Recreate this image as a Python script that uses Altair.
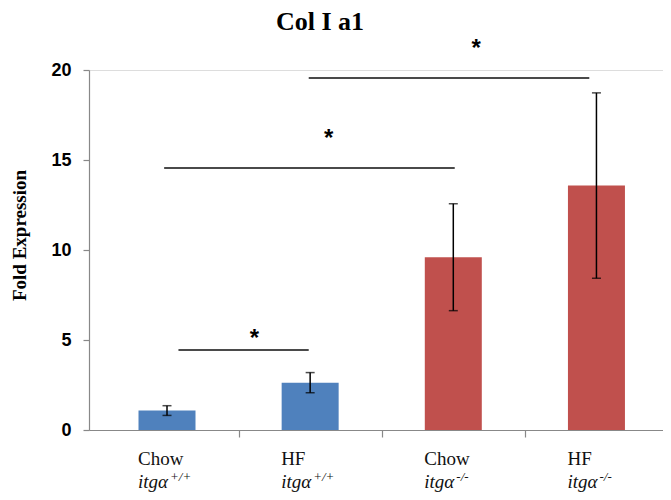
import altair as alt
import pandas as pd

# ---- data ----
title_text = "Col I a1"
groups = ["Chow", "HF", "Chow", "HF"]
genotypes = ["+/+", "+/+", "-/-", "-/-"]
means = [1.08, 2.63, 9.6, 13.58]
errors = [0.27, 0.56, 2.97, 5.15]

sig_start = [0.08, -0.02, 0.99]
sig_end = [0.99, 2.01, 2.95]
sig_y = [4.45, 14.55, 19.55]
star_x = [0.61, 1.13, 2.16]
star_y = [5.4, 16.5, 21.5]

y_ticks = [0, 5, 10, 15, 20]
x_ticks = [0.5, 1.5, 2.5]

bars = pd.DataFrame({
    "idx": list(range(len(groups))),
    "group": groups,
    "geno": genotypes,
    "mean": means,
    "lo": [m - e for m, e in zip(means, errors)],
    "hi": [m + e for m, e in zip(means, errors)],
})
sig = pd.DataFrame({"x": sig_start, "x2": sig_end, "y": sig_y})
stars = pd.DataFrame({"x": star_x, "y": star_y, "t": ["*"] * len(star_x)})
ttl = pd.DataFrame({"t": [title_text]})

W, H = 574, 360
xs = alt.Scale(domain=[-0.51, 3.43], nice=False, zero=False)
ys = alt.Scale(domain=[0, 20], nice=False)

x_axis = alt.Axis(values=x_ticks, labels=False, grid=False, title=None,
                  tickColor="#888888", domainColor="#888888", tickSize=7,
                  domainWidth=1.2, tickWidth=1.2)
y_axis = alt.Axis(values=y_ticks, grid=False, title="Fold Expression",
                  labelFont="Liberation Sans", labelFontWeight="bold",
                  labelFontSize=18, labelColor="#000000", labelPadding=12,
                  tickColor="#888888", domainColor="#888888", tickSize=6,
                  domainWidth=1.2, tickWidth=1.2,
                  titleFont="Liberation Serif", titleFontWeight="bold",
                  titleFontSize=19, titleColor="#000000",
                  titleX=-70, titleY=165, titleBaseline="middle", titleAngle=270)

base = alt.Chart(bars)

bar = base.mark_bar(size=57).encode(
    x=alt.X("idx:Q", scale=xs, axis=x_axis),
    y=alt.Y("mean:Q", scale=ys, axis=y_axis),
    color=alt.Color("geno:N", scale=alt.Scale(domain=["+/+", "-/-"],
                                              range=["#4F81BD", "#C0504D"]),
                    legend=None),
)

err = base.mark_rule(color="#000000", strokeWidth=1.5).encode(
    x=alt.X("idx:Q", scale=xs), y=alt.Y("lo:Q", scale=ys), y2="hi:Q")
cap_hi = base.mark_tick(color="#000000", orient="horizontal", size=9,
                        thickness=1.5).encode(
    x=alt.X("idx:Q", scale=xs), y=alt.Y("hi:Q", scale=ys))
cap_lo = base.mark_tick(color="#000000", orient="horizontal", size=9,
                        thickness=1.5).encode(
    x=alt.X("idx:Q", scale=xs), y=alt.Y("lo:Q", scale=ys))

lines = alt.Chart(sig).mark_rule(color="#4a4a4a", strokeWidth=2).encode(
    x=alt.X("x:Q", scale=xs), x2="x2:Q", y=alt.Y("y:Q", scale=ys))
star_txt = alt.Chart(stars).mark_text(font="Liberation Sans", fontWeight="bold",
                                      fontSize=24, baseline="alphabetic",
                                      dy=13, color="#000000").encode(
    x=alt.X("x:Q", scale=xs), y=alt.Y("y:Q", scale=ys), text="t:N")

lab1 = base.mark_text(font="Liberation Serif", fontSize=19, align="left",
                      baseline="alphabetic", dx=-29, color="#111111").encode(
    x=alt.X("idx:Q", scale=xs), y=alt.value(395), text="group:N")
lab2 = base.mark_text(font="Liberation Serif", fontSize=19, fontStyle="italic",
                      align="left", baseline="alphabetic", dx=-29,
                      color="#111111").encode(
    x=alt.X("idx:Q", scale=xs), y=alt.value(418), text=alt.value("itgα"))
lab3 = base.mark_text(font="Liberation Serif", fontSize=13, fontStyle="italic",
                      align="left", baseline="alphabetic", dx=3,
                      color="#111111").encode(
    x=alt.X("idx:Q", scale=xs), y=alt.value(411), text="geno:N")

title_mark = alt.Chart(ttl).mark_text(font="Liberation Serif", fontWeight="bold",
                                      fontSize=26, color="#000000", align="center",
                                      baseline="alphabetic").encode(
    x=alt.value(231), y=alt.value(-40), text="t:N")

chart = alt.layer(bar, err, cap_hi, cap_lo, lines, star_txt, lab1, lab2, lab3,
                  title_mark).properties(
    width=W, height=H,
    autosize=alt.AutoSizeParams(type="none"),
    padding={"left": 81, "top": 62, "right": 0, "bottom": 62},
).configure_view(stroke=None).configure(background="#ffffff")

chart.save("out.html", embed_options={"renderer": "svg", "actions": False})
